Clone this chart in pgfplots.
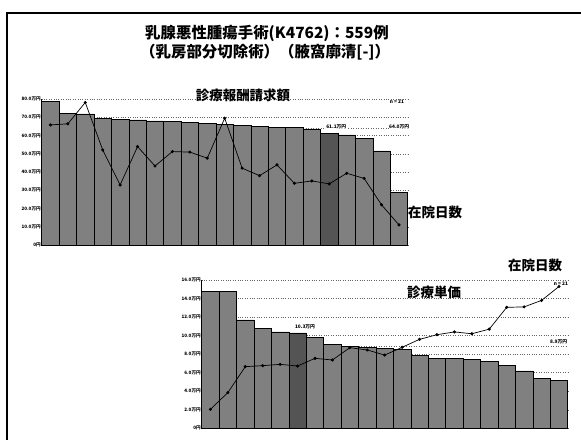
\documentclass[border=0pt]{standalone}
\usepackage{fontspec}
\usepackage{pgfplots}
\pgfplotsset{compat=1.18}
\setmainfont{Noto Sans CJK JP}

\definecolor{barfill}{gray}{0.50}
\definecolor{barhi}{gray}{0.33}

% per-hospital data, sorted by bar height
\pgfplotstableread{
x  amount  days
1  78.8    65.8
2  72.2    66.4
3  71.9    78.1
4  69.5    52.1
5  69.0    32.9
6  68.6    53.9
7  68.0    43.3
8  67.7    51.2
9  67.3    50.9
10 66.8    47.6
11 66.2    69.5
12 65.5    42.1
13 65.0    38.0
14 64.5    43.9
15 64.3    33.8
16 63.6    35.1
17 61.1    33.5
18 60.3    39.3
19 58.5    36.5
20 51.6    22.0
21 28.9    11.0
}\tableTop

\pgfplotstableread{
x  unit   days
1  14.8   2.05
2  14.8   3.85
3  11.7   6.65
4  10.8   6.76
5  10.4   6.90
6  10.3   6.72
7  9.8    7.55
8  9.06   7.37
9  8.8    8.70
10 8.74   8.45
11 8.6    7.90
12 8.5    8.74
13 7.9    9.60
14 7.55   10.1
15 7.55   10.4
16 7.44   10.2
17 7.2    10.7
18 6.83   13.05
19 6.2    13.1
20 5.4    13.8
21 5.2    15.3
}\tableBottom

\pgfplotsset{
  chart/.style={
    scale only axis,
    anchor=south west,
    width=366bp,
    xmin=0.5, xmax=21.5, ymin=0,
    axis lines*=left,
    axis line style={line width=0.6bp},
    xtick=\empty,
    major tick length=0pt,
    ymajorgrids,
    grid style={dotted, line width=0.5bp, black!60},
    yticklabel style={font=\bfseries\fontsize{4.6}{5}\selectfont, inner sep=0.8bp},
    clip=false,
  },
  bars/.style={ybar, bar width=1, bar shift=0pt, draw=black, line width=0.5bp},
  stay/.style={black, line width=0.7bp, mark=*, mark size=1.2bp, mark options={fill=black}},
}

\begin{document}
\begin{tikzpicture}
\path[use as bounding box] (0bp,0bp) rectangle (581bp,-440bp);
\fill[white] (0bp,0bp) rectangle (581bp,-440bp);
\draw[line width=1.6bp] (7bp,-440bp) -- (7bp,-13bp) -- (581bp,-13bp);

\node[anchor=west, inner sep=0pt, font=\bfseries\fontsize{15.5}{18}\selectfont] at (145bp,-33bp) {乳腺悪性腫瘍手術(K4762)：559例};
\node[anchor=west, inner sep=0pt, font=\bfseries\fontsize{15.5}{18}\selectfont] at (140bp,-52bp) {（乳房部分切除術）（腋窩廓清[-]）};

% claimed fee per case
\begin{axis}[chart, at={(41.7bp,-245bp)}, height=146bp, ymax=80,
  ytick={0,10,...,80},
  yticklabels={0円,10.0万円,20.0万円,30.0万円,40.0万円,50.0万円,60.0万円,70.0万円,80.0万円}]
\addplot[dotted, line width=0.5bp, black!60] coordinates {(0.5,64.0) (21.5,64.0)};
\addplot[bars, fill=barfill] table[x=x, y=amount] {\tableTop};
\addplot[bars, fill=barhi] coordinates {(17,61.1)};
\addplot[stay] table[x=x, y=days] {\tableTop};
\node[fill=white, inner sep=0.6bp, font=\bfseries\fontsize{4.8}{5}\selectfont] at (axis cs:17.4,64.6) {61.1万円};
\end{axis}

% cost per inpatient day
\begin{axis}[chart, at={(201.7bp,-428.3bp)}, height=148.3bp, ymax=16,
  ytick={0,2,...,16},
  yticklabels={0円,2.0万円,4.0万円,6.0万円,8.0万円,10.0万円,12.0万円,14.0万円,16.0万円}]
\addplot[dotted, line width=0.5bp, black!60] coordinates {(0.5,8.9) (21.5,8.9)};
\addplot[bars, fill=barfill] table[x=x, y=unit] {\tableBottom};
\addplot[bars, fill=barhi] coordinates {(6,10.3)};
\addplot[stay] table[x=x, y=days] {\tableBottom};
\end{axis}

\node[font=\bfseries\fontsize{13.5}{14}\selectfont] at (243bp,-95bp) {診療報酬請求額};
\node[anchor=west, font=\bfseries\fontsize{13.5}{14}\selectfont, inner sep=0pt] at (408bp,-212bp) {在院日数};
\node[anchor=west, font=\bfseries\fontsize{13.5}{14}\selectfont, inner sep=0pt] at (508bp,-265bp) {在院日数};
\node[anchor=west, font=\bfseries\fontsize{13.5}{14}\selectfont, inner sep=0pt] at (407bp,-292bp) {診療単価};
\node[font=\bfseries\fontsize{4.8}{5}\selectfont, inner sep=0pt] at (397bp,-102bp) {n = 21};
\node[font=\bfseries\fontsize{4.8}{5}\selectfont, inner sep=0pt] at (561bp,-284bp) {n = 21};
\node[anchor=east, fill=white, font=\bfseries\fontsize{4.8}{5}\selectfont, inner sep=0.6bp] at (410bp,-126.5bp) {64.0万円};
\node[fill=white, font=\bfseries\fontsize{4.8}{5}\selectfont, inner sep=0.6bp] at (305bp,-327.3bp) {10.3万円};
\node[anchor=east, fill=white, font=\bfseries\fontsize{4.8}{5}\selectfont, inner sep=0.6bp] at (568bp,-342bp) {8.9万円};
\end{tikzpicture}
\end{document}
